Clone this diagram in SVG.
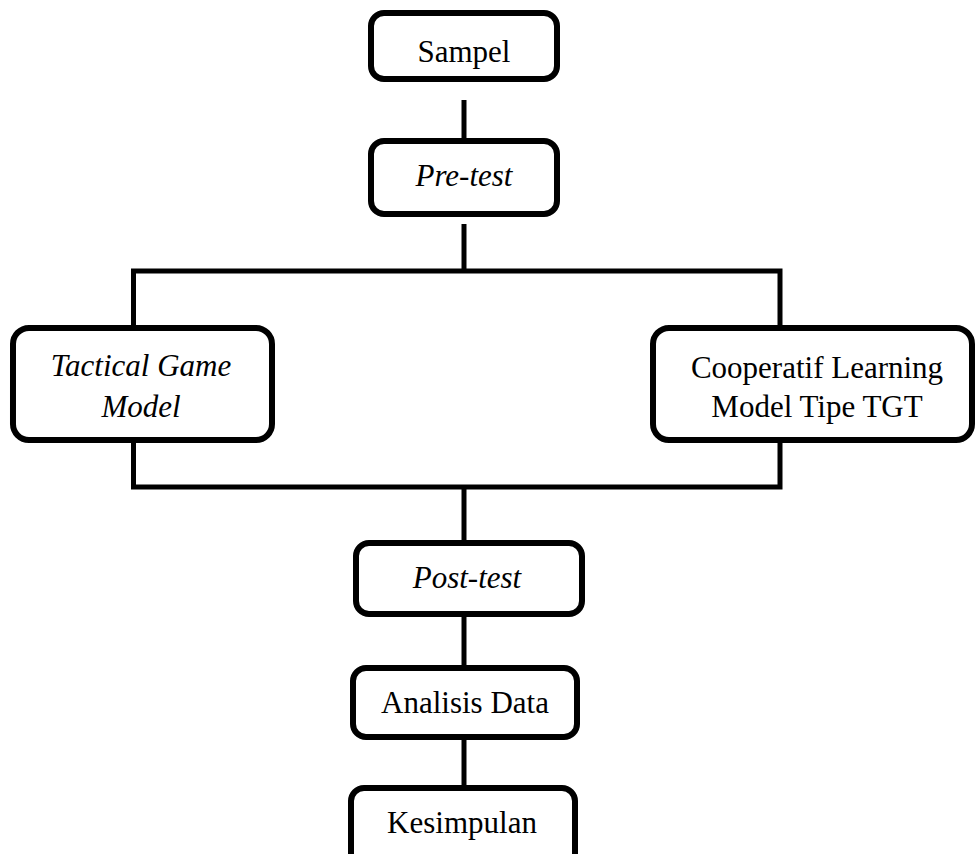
<svg xmlns="http://www.w3.org/2000/svg" width="976" height="854" viewBox="0 0 976 854">
<style>
.box{fill:#fff;stroke:#000;stroke-width:6}
.t{font-family:"Liberation Serif","Times New Roman",serif;font-size:31px;fill:#000;text-anchor:middle}
.i{font-style:italic}
.c{stroke:#000;stroke-width:5;fill:none}
</style>
<rect width="976" height="854" fill="#fff"/>
<g id="connectors">
<line class="c" x1="464" y1="100" x2="464" y2="139"/>
<line class="c" x1="464" y1="224" x2="464" y2="271"/>
<polyline class="c" points="133.5,325 133.5,271 780,271 780,325"/>
<polyline class="c" points="133.5,443 133.5,487 780,487 780,443"/>
<line class="c" x1="464" y1="487" x2="464" y2="541"/>
<line class="c" x1="464" y1="617" x2="464" y2="666"/>
<line class="c" x1="464" y1="740" x2="464" y2="786"/>
</g>
<g id="sampel"><rect class="box" x="371" y="13" width="186" height="66" rx="13"/><text class="t" x="464" y="62">Sampel</text></g>
<g id="pretest"><rect class="box" x="371" y="141" width="186" height="73" rx="13"/><text class="t i" x="464" y="186">Pre-test</text></g>
<g id="tgm"><rect class="box" x="13" y="328" width="259" height="112" rx="16"/><text class="t i" x="141" y="376">Tactical Game</text><text class="t i" x="141" y="417">Model</text></g>
<g id="tgt"><rect class="box" x="653" y="328" width="319" height="112" rx="16"/><text class="t" x="817" y="378">Cooperatif Learning</text><text class="t" x="817" y="417">Model Tipe TGT</text></g>
<g id="posttest"><rect class="box" x="356" y="543" width="226" height="71" rx="13"/><text class="t i" x="467" y="588">Post-test</text></g>
<g id="analisis"><rect class="box" x="353" y="668" width="224" height="69" rx="13"/><text class="t" x="465" y="713">Analisis Data</text></g>
<g id="kesimpulan"><rect class="box" x="351" y="788" width="224" height="90" rx="13"/><text class="t" x="462" y="833">Kesimpulan</text></g>
</svg>
